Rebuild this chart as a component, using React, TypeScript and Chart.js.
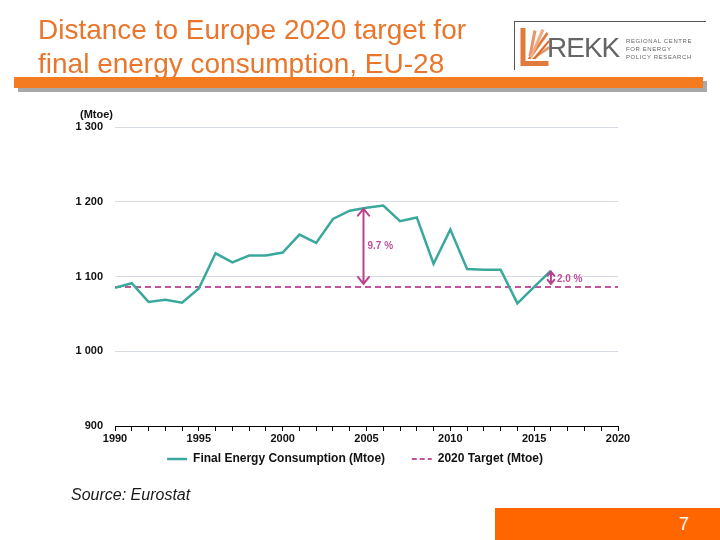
import React, { useEffect, useRef } from "react";
import { Chart, registerables } from "chart.js";

Chart.register(...registerables);

// ---- Data ----
const years = [1990, 1991, 1992, 1993, 1994, 1995, 1996, 1997, 1998, 1999, 2000, 2001, 2002, 2003, 2004, 2005, 2006, 2007, 2008, 2009, 2010, 2011, 2012, 2013, 2014, 2015, 2016];
const consumption = [1085, 1091, 1066, 1069, 1065, 1084, 1131, 1119, 1128, 1128, 1132, 1156, 1145, 1177, 1188, 1192, 1195, 1174, 1179, 1117, 1163, 1110, 1109, 1109, 1064, 1086, 1108];
const targetYears = [1990, 2020];
const targetValues = [1086, 1086];
const yTicks = [900, 1000, 1100, 1200, 1300];
const xLabelYears = [1990, 1995, 2000, 2005, 2010, 2015, 2020];
const gapYears = [2005, 2016];
const gapTops = [1192, 1108];
const gapLabels = ["9.7 %", "2.0 %"];
const targetLevel = 1086;

const seriesNames = ["Final Energy Consumption (Mtoe)", "2020 Target (Mtoe)"];
const FONT = "'Liberation Sans', Arial, sans-serif";

const fmtThousands = (v: number) =>
  v >= 1000 ? `${Math.floor(v / 1000)} ${String(v % 1000).padStart(3, "0")}` : String(v);

const gapPlugin = {
  id: "gapArrows",
  afterDatasetsDraw(chart: any) {
    const { ctx, scales } = chart;
    const x = scales.x;
    const y = scales.y;
    ctx.save();
    ctx.strokeStyle = "#b9428d";
    ctx.fillStyle = "#c0509a";
    ctx.lineWidth = 2;
    ctx.lineCap = "round";
    gapYears.forEach((yr, i) => {
      const px = x.getPixelForValue(yr) - (i === 0 ? 3 : 0);
      const top = y.getPixelForValue(gapTops[i]) + 1;
      const bot = y.getPixelForValue(targetLevel) - 3;
      const len = bot - top;
      const head = Math.min(7, len / 3);
      const hw = Math.min(6, head * 0.8);
      ctx.beginPath();
      ctx.moveTo(px, top);
      ctx.lineTo(px, bot);
      ctx.moveTo(px - hw, top + head);
      ctx.lineTo(px, top);
      ctx.lineTo(px + hw, top + head);
      ctx.moveTo(px - hw, bot - head);
      ctx.lineTo(px, bot);
      ctx.lineTo(px + hw, bot - head);
      ctx.stroke();
      ctx.font = `bold 10px ${FONT}`;
      ctx.textAlign = "left";
      ctx.textBaseline = "middle";
      ctx.fillText(gapLabels[i], px + (i === 0 ? 4 : 6), (top + bot) / 2 + (i === 0 ? 0 : 2));
    });
    ctx.restore();
  },
};

function Logo() {
  return (
    <div style={{ position: "absolute", left: 514, top: 21, width: 191, height: 48, borderTop: "1px solid #555", borderLeft: "1px solid #555" }}>
      <svg width={31} height={42} style={{ position: "absolute", left: 4, top: 4 }} viewBox="0 0 30 42">
        <path d="M1 2 L6 2 L6 35 L29 35 L29 40 L1 40 Z" fill="#e07b3c" />
        <path d="M8 33 L27 6 L29 8 L11 33 Z" fill="#e07b3c" />
        <path d="M9 30 L14 4 L17 5 L12 30 Z" fill="#e9956a" />
        <path d="M12 33 L29 20 L30 23 L15 33 Z" fill="#e9956a" />
        <path d="M10 31 L22 3 L25 4 L13 31 Z" fill="#f0aa84" />
        <path d="M13 33 L29 14 L30 16 L16 33 Z" fill="#d86d2e" />
      </svg>
      <div style={{ position: "absolute", left: 32, top: 11, fontFamily: FONT, fontSize: 28, color: "#656565", letterSpacing: -1, lineHeight: "30px" }}>REKK</div>
      <div style={{ position: "absolute", left: 111, top: 15, fontFamily: FONT, fontSize: 6, color: "#666", lineHeight: "8px", letterSpacing: 0.6 }}>
        REGIONAL CENTRE<br />FOR ENERGY<br />POLICY RESEARCH
      </div>
    </div>
  );
}

export default function App() {
  const canvasRef = useRef<HTMLCanvasElement | null>(null);

  useEffect(() => {
    const canvas = canvasRef.current;
    if (!canvas) return;
    const chart = new Chart(canvas, {
      type: "line",
      data: {
        datasets: [
          {
            label: seriesNames[0],
            data: years.map((yr, i) => ({ x: yr, y: consumption[i] })),
            borderColor: "#3aa89c",
            backgroundColor: "#3aa89c",
            borderWidth: 2.5,
            pointRadius: 0,
            pointStyle: "line",
            tension: 0,
          },
          {
            label: seriesNames[1],
            data: targetYears.map((yr, i) => ({ x: yr, y: targetValues[i] })),
            borderColor: "#c2549a",
            backgroundColor: "#c2549a",
            borderWidth: 2,
            borderDash: [6, 4],
            pointRadius: 0,
            pointStyle: "line",
          },
        ],
      },
      options: {
        animation: false,
        responsive: false,
        devicePixelRatio: 1,
        layout: { padding: { left: 72, right: 82, top: 127, bottom: 65 } },
        plugins: {
          legend: {
            position: "bottom",
            labels: {
              usePointStyle: true,
              pointStyleWidth: 20,
              padding: 10,
              color: "#111",
              font: { family: FONT, size: 12, weight: "bold" },
              generateLabels: (chart: any) => {
                const items = Chart.defaults.plugins.legend.labels.generateLabels(chart);
                items.forEach((it: any, i: number) => {
                  if (i < items.length - 1) it.text = it.text + "     ";
                  if (i === 1) it.lineDash = [5, 3];
                });
                return items;
              },
            },
          },
          tooltip: { enabled: false },
        },
        scales: {
          x: {
            type: "linear",
            min: 1990,
            max: 2020,
            afterFit: (s: any) => { s.height = 17; },
            afterBuildTicks: (s: any) => {
              const t = [];
              for (let v = 1990; v <= 2020; v++) t.push({ value: v });
              s.ticks = t;
            },
            ticks: {
              autoSkip: false,
              maxRotation: 0,
              padding: 1,
              color: "#111",
              font: { family: FONT, size: 11, weight: "bold" },
              callback: (v: any) => (xLabelYears.includes(Number(v)) ? String(v) : ""),
            },
            grid: { drawOnChartArea: false, drawTicks: true, tickLength: 5, color: "#000", lineWidth: 1 },
            border: { color: "#000", width: 1 },
          },
          y: {
            min: 900,
            max: 1300,
            afterFit: (s: any) => { s.width = 43; },
            afterBuildTicks: (s: any) => { s.ticks = yTicks.map((v) => ({ value: v })); },
            ticks: {
              padding: 12,
              color: "#111",
              font: { family: FONT, size: 11, weight: "bold" },
              callback: (v: any) => fmtThousands(Number(v)),
            },
            grid: { drawTicks: false, color: "#d6dbe3", lineWidth: 1 },
            border: { display: false },
          },
          y2: {
            position: "right",
            min: 900,
            max: 1300,
            afterFit: (s: any) => { s.width = 20; },
            ticks: { display: false },
            grid: { display: false, drawTicks: false },
            border: { display: false },
          },
        },
      },
      plugins: [gapPlugin],
    } as any);
    return () => chart.destroy();
  }, []);

  return (
    <div style={{ position: "fixed", left: 0, top: 0, width: 720, height: 540, background: "#fff", overflow: "hidden" }}>
      <canvas ref={canvasRef} width={720} height={540} style={{ position: "absolute", left: 0, top: 0, width: 720, height: 540 }} />
      <div style={{ position: "absolute", left: 38, top: 13, fontFamily: FONT, fontSize: 28, lineHeight: "34px", color: "#e8762c", whiteSpace: "nowrap" }}>
        Distance to Europe 2020 target for<br />final energy consumption, EU-28
      </div>
      <Logo />
      <div style={{ position: "absolute", left: 18, top: 81, width: 689, height: 11, background: "#a8a8a8" }} />
      <div style={{ position: "absolute", left: 14, top: 77, width: 689, height: 11, background: "#f47b20" }} />
      <div style={{ position: "absolute", left: 80, top: 108, fontFamily: FONT, fontSize: 11, fontWeight: "bold", color: "#111", lineHeight: "13px" }}>(Mtoe)</div>
      <div style={{ position: "absolute", left: 71, top: 486, fontFamily: FONT, fontSize: 16, fontStyle: "italic", color: "#1a1a1a", lineHeight: "18px" }}>Source: Eurostat</div>
      <div style={{ position: "absolute", left: 495, top: 508, width: 225, height: 32, background: "#ff6600" }}>
        <div style={{ position: "absolute", right: 31, top: 6, fontFamily: FONT, fontSize: 18, color: "#fff", lineHeight: "20px" }}>7</div>
      </div>
    </div>
  );
}
